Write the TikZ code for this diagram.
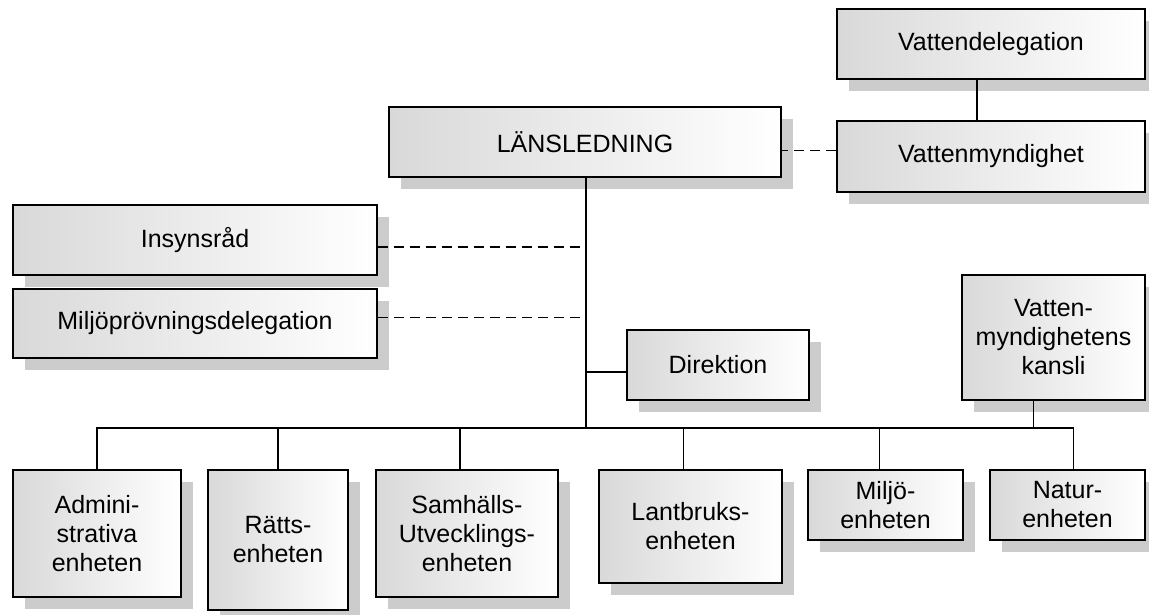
\documentclass[tikz,border=0pt]{standalone}
\usepackage{fontspec}
\setmainfont{Liberation Sans}
\usepackage{tikz}
\usetikzlibrary{shadows}

\tikzset{
  unit/.style = {draw, line width = 1.6pt, rectangle, inner sep = 0pt, align = center,
    left color = black!15, right color = white,
    drop shadow = {shadow xshift = 12pt, shadow yshift = -12pt, fill = black!20, opacity = 1},
    font = \fontsize{25}{29}\selectfont},
  link/.style = {line width = 1.6pt},
  dotlink/.style = {line width = 1.6pt, dash pattern = on 10pt off 6pt}
}

\begin{document}
\begin{tikzpicture} [x = 1pt, y = -1pt]
    \useasboundingbox (0,0) rectangle (1149,614);
    \node [unit, minimum width = 308pt, minimum height = 70pt] (vdel) at (991,44) {Vattendelegation};
    \node [unit, minimum width = 308pt, minimum height = 71pt] (vmyn) at (991,156.5) {Vattenmyndighet};
    \node [unit, minimum width = 392pt, minimum height = 70pt] (lans) at (585,142) {LÄNSLEDNING};
    \node [unit, minimum width = 364pt, minimum height = 70pt] (ins) at (195,240) {Insynsråd};
    \node [unit, minimum width = 364pt, minimum height = 69pt] (mpd) at (195,323.5) {Miljöprövningsdelegation};
    \node [unit, minimum width = 182pt, minimum height = 70pt] (dir) at (718,365) {Direktion};
    \node [unit, minimum width = 183pt, minimum height = 125pt] (vmk) at (1053.5,337.5) {Vatten-\\myndighetens\\kansli};
    \node [unit, minimum width = 168pt, minimum height = 127pt] (adm) at (97,533.5) {Admini-\\strativa\\enheten};
    \node [unit, minimum width = 140pt, minimum height = 140pt] (ratt) at (278,540) {Rätts-\\enheten};
    \node [unit, minimum width = 182pt, minimum height = 127pt] (samh) at (467,533.5) {Samhälls-\\Utvecklings-\\enheten};
    \node [unit, minimum width = 183pt, minimum height = 113pt] (lant) at (690.5,526.5) {Lantbruks-\\enheten};
    \node [unit, minimum width = 155pt, minimum height = 70pt] (milj) at (885.5,505) {Miljö-\\enheten};
    \node [unit, minimum width = 155pt, minimum height = 70pt] (nat) at (1067.5,505) {Natur-\\enheten};
    \coordinate (bar) at (586,428);

    \draw [link] ([xshift = -14pt]vdel.south) -- ([xshift = -14pt]vmyn.north);
    \draw [dotlink] ([yshift = 6pt]vmyn.west) -- ([yshift = 6pt]vmyn.west -| lans.east);
    \draw [link] (lans.south -| bar) -- (bar);
    \draw [dotlink, shorten > = 5pt] ([yshift = -7pt]ins.east) -- ([yshift = -7pt]ins.east -| bar);
    \draw [dotlink, shorten > = 5pt] ([yshift = 6pt]mpd.east) -- ([yshift = 6pt]mpd.east -| bar);
    \draw [link] ([yshift = -7pt]dir.west) -- ([yshift = -7pt]dir.west -| bar);
    \draw [link] (adm.north) |- ([xshift = 6pt]nat.north |- bar) -- ([xshift = 6pt]nat.north);
    \draw [link] (ratt.north) -- (ratt.north |- bar);
    \foreach \n in {samh, lant} {
      \draw [link] ([xshift = -7pt]\n.north) -- ([xshift = -7pt]\n.north |- bar);
    }
    \draw [link] ([xshift = -6pt]milj.north) -- ([xshift = -6pt]milj.north |- bar);
    \draw [link] ([xshift = -20pt]vmk.south) -- ([xshift = -20pt]vmk.south |- bar);
\end{tikzpicture}
\end{document}
